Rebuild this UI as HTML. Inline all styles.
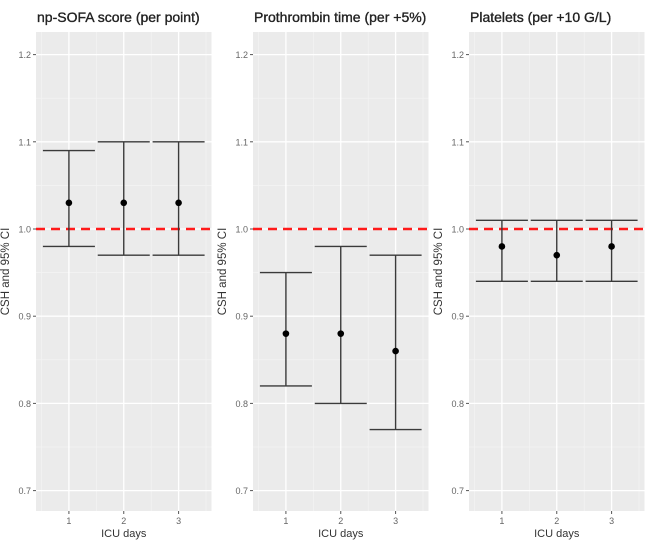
<!DOCTYPE html>
<html><head><meta charset="utf-8"><style>
html,body{margin:0;padding:0;background:#fff;}
svg{display:block;font-family:"Liberation Sans",sans-serif;}
</style></head><body>
<svg id="chart" width="669" height="544" viewBox="0 0 669 544"></svg>
<script>
const titles = ["np-SOFA score (per point)", "Prothrombin time (per +5%)", "Platelets (per +10 G/L)"];
const categories = ["1", "2", "3"];
const yTicks = [0.7, 0.8, 0.9, 1.0, 1.1, 1.2];
const yTickLabels = ["0.7", "0.8", "0.9", "1.0", "1.1", "1.2"];
const refValue = 1.0;
const lowerP1 = [0.98, 0.97, 0.97];
const pointP1 = [1.03, 1.03, 1.03];
const upperP1 = [1.09, 1.10, 1.10];
const lowerP2 = [0.82, 0.80, 0.77];
const pointP2 = [0.88, 0.88, 0.86];
const upperP2 = [0.95, 0.98, 0.97];
const lowerP3 = [0.94, 0.94, 0.94];
const pointP3 = [0.98, 0.97, 0.98];
const upperP3 = [1.01, 1.01, 1.01];

const NS = "http://www.w3.org/2000/svg";
const svgEl = document.getElementById("chart");
function mk(tag, attrs, parent) {
  const e = document.createElementNS(NS, tag);
  for (const k in attrs) e.setAttribute(k, attrs[k]);
  (parent || svgEl).appendChild(e);
  return e;
}
const panelLefts = [36, 253, 469];
const panelW = 175.5, plotTop = 32, plotBottom = 511;
function yScale(v) { return 229 - (v - 1) * 872; }
function xScale(left, i) { return left + (i + 1 - 0.4) * (panelW / 3.2); }
function xScaleC(left, c) { return left + (c - 0.4) * (panelW / 3.2); }
const lowers = [lowerP1, lowerP2, lowerP3];
const points = [pointP1, pointP2, pointP3];
const uppers = [upperP1, upperP2, upperP3];

panelLefts.forEach((L, p) => {
  const g = mk("g", {});
  
  
  const bg = mk("rect", {x: L, y: plotTop, width: panelW, height: plotBottom - plotTop, fill: "#ebebeb"}, g);
  
  
  for (let v = 0.75; v < 1.25; v += 0.1) {
    mk("line", {x1: L, x2: L + panelW, y1: yScale(v), y2: yScale(v), stroke: "#f4f4f4", "stroke-width": 0.7}, g);
  }
  [0.5, 1.5, 2.5, 3.5].forEach(c => mk("line", {x1: xScaleC(L, c), x2: xScaleC(L, c), y1: plotTop, y2: plotBottom, stroke: "#f4f4f4", "stroke-width": 0.7}, g));
  yTicks.forEach((v, i) => {
    const y = yScale(v);
    mk("line", {x1: L, x2: L + panelW, y1: y, y2: y, stroke: "#fff", "stroke-width": 1.3}, g);
    mk("line", {x1: L - 3, x2: L, y1: y, y2: y, stroke: "#555", "stroke-width": 1}, g);
    const t = mk("text", {x: L - 5, y: y + 3.5, "text-anchor": "end", "font-size": 9, fill: "#666"}, g);
    t.textContent = yTickLabels[i];
    
    
  });
  categories.forEach((c, i) => {
    const x = xScale(L, i);
    mk("line", {x1: x, x2: x, y1: plotTop, y2: plotBottom, stroke: "#fff", "stroke-width": 1.3}, g);
    mk("line", {x1: x, x2: x, y1: plotBottom, y2: plotBottom + 3, stroke: "#555", "stroke-width": 1}, g);
    const t = mk("text", {x: x, y: 524, "text-anchor": "middle", "font-size": 9, fill: "#666"}, g);
    t.textContent = c;
    
    
  });
  const ry = yScale(refValue);
  const rl = mk("line", {x1: L, x2: L + panelW, y1: ry, y2: ry, stroke: "#ff1a1a", "stroke-width": 2.6, "stroke-dasharray": "9,6"}, g);
  
  
  categories.forEach((c, i) => {
    const x = xScale(L, i), hw = 26;
    const eb = mk("g", {stroke: "#3a3a3a", "stroke-width": 1.4, fill: "none"}, g);
    
    
    mk("line", {x1: x, x2: x, y1: yScale(uppers[p][i]), y2: yScale(lowers[p][i])}, eb);
    mk("line", {x1: x - hw, x2: x + hw, y1: yScale(uppers[p][i]), y2: yScale(uppers[p][i])}, eb);
    mk("line", {x1: x - hw, x2: x + hw, y1: yScale(lowers[p][i]), y2: yScale(lowers[p][i])}, eb);
    const pt = mk("circle", {cx: x, cy: yScale(points[p][i]), r: 3.3, fill: "#000"}, g);
    
    
  });
  const tt = mk("text", {x: L + 1, y: 22, "font-size": 14, fill: "#222", stroke: "#222", "stroke-width": 0.35}, g);
  tt.textContent = titles[p];
  
  
  const xt = mk("text", {x: L + panelW / 2, y: 537, "text-anchor": "middle", "font-size": 11, fill: "#333"}, g);
  xt.textContent = "ICU days";
  
  
  const yx = L - 27, yy = (plotTop + plotBottom) / 2;
  const yt = mk("text", {x: yx, y: yy, "text-anchor": "middle", "font-size": 11.5, fill: "#333", transform: "rotate(-90 " + yx + " " + yy + ")"}, g);
  yt.textContent = "CSH and 95% CI";
  
  
});
</script>
</body></html>
